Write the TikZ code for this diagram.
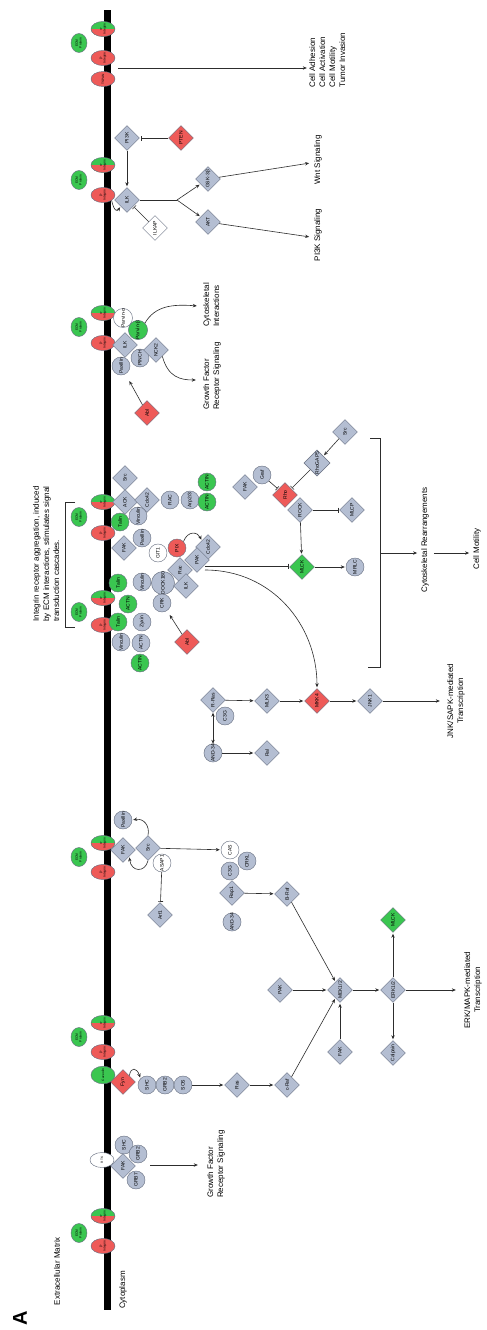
\documentclass[tikz,border=0pt]{standalone}
\usepackage{fontspec}
\setmainfont{Liberation Sans}
\usepackage{graphicx}
\usetikzlibrary{shapes.geometric,arrows.meta,calc}
\definecolor{gfill}{RGB}{180,190,210}
\definecolor{gline}{RGB}{105,113,130}
\definecolor{rfill}{RGB}{238,90,88}
\definecolor{nfill}{RGB}{58,198,80}
\definecolor{linkc}{RGB}{45,45,45}
\newcommand{\Rt}[1]{\rotatebox{90}{#1}}
\newcommand{\rotL}[1]{\rotatebox{90}{\begin{tabular}{@{}l@{}}#1\end{tabular}}}
\newcommand{\rotC}[1]{\rotatebox{90}{\begin{tabular}{@{}c@{}}#1\end{tabular}}}
\newcommand{\integrin}[4]{%
  \node[bic] (#1a) at (103,#2) {\rotC{α-\\Integrin}};
  \node[ib] (#1b) at (103,#3) {\rotC{β-\\Integrin}};
  \node[ecm] (#1e) at (79,#4) {\rotC{ECM\\Protein}};}
\begin{document}
\begin{tikzpicture}[x=1pt,y=-1pt,
 base/.style={draw=gline,line width=0.45pt,inner sep=0pt,font=\fontsize{5}{5.5}\selectfont},
 gd/.style={base,diamond,fill=gfill,minimum width=25pt,minimum height=25pt},
 wd/.style={gd,fill=white},
 rd/.style={gd,fill=rfill},
 nd/.style={gd,fill=nfill},
 gc/.style={base,circle,fill=gfill,minimum size=18pt},
 wc/.style={gc,fill=white},
 rc/.style={gc,fill=rfill},
 nc/.style={gc,fill=nfill},
 ib/.style={base,ellipse,fill=rfill,minimum width=24pt,minimum height=15pt,font=\fontsize{3.2}{3.6}\selectfont},
 bic/.style={ib,fill=nfill,path picture={\fill[rfill] (path picture bounding box.west) rectangle (path picture bounding box.south east);}},
 ecm/.style={ib,fill=nfill,minimum width=16pt,minimum height=19pt},
 txt/.style={inner sep=0pt,font=\fontsize{8}{10}\selectfont},
 lk/.style={draw=linkc,line width=0.6pt},
 arr/.style={lk,-{Stealth[length=4pt,width=3.4pt]},shorten >=1pt},
 arrb/.style={lk,{Stealth[length=4pt,width=3.4pt]}-{Stealth[length=4pt,width=3.4pt]}},
 inh/.style={lk,-{Bar[width=5pt]},shorten >=1pt},
]
\useasboundingbox (0,0) rectangle (487,1330);
\fill[white] (0,0) rectangle (487,1330);
% membrane
\fill[black] (104,10) rectangle (111,1310);

% integrins
\integrin{g1}{29}{58}{43}
\node[ib] (tspan) at (103,79) {\Rt{TSPAN}};
\integrin{g2}{165}{195}{180}
\integrin{g3}{313}{343}{327}
\integrin{g4}{502}{533}{517}
\integrin{g5}{598}{625}{612}
\integrin{g6}{843}{872}{857}
\integrin{g7}{1023}{1052}{1037}
\node[ib,fill=nfill] (cav) at (103,1075) {\Rt{Caveolin}};
\node[ib,fill=white] (rtk) at (102,1160) {\Rt{RTK}};
\integrin{g8}{1216}{1246}{1233}

% ---------- top: ILK ----------
\node[gd] (pi3k) at (127,138) {\Rt{PI3K}};
\node[rd] (pten) at (181,138) {\Rt{PTEN}};
\node[gd] (ilk1) at (127,200) {\Rt{ILK}};
\node[wd] (ilkap) at (155,228) {\Rt{ILKAP}};
\node[gd] (gsk) at (208,179) {\Rt{GSK-3β}};
\node[gd] (akt1) at (208,222) {\Rt{AKT}};
\coordinate (br) at (177,200);
\node[txt] (cellout) at (328,60) {\rotL{Cell Adhesion\\Cell Activation\\Cell Motility\\Tumor Invasion}};
\node[txt] (wnt) at (318,160) {\Rt{Wnt Signaling}};
\node[txt] (pi3ksig) at (318,235) {\Rt{PI3K Signaling}};
\coordinate (c1) at (118,68);
\draw[arr] (c1) -- (c1 -| cellout.west);
\draw[inh] (pten) -- (pi3k);
\draw[arr] (pi3k) -- (ilk1);
\draw[inh] (ilkap) -- (ilk1);
\draw[lk] (ilk1) -- (br);
\draw[arr] (br) -- (gsk);
\draw[arr] (br) -- (akt1);
\draw[arr] (gsk) -- ($(wnt.west)+(-4,3)$);
\draw[arr] (akt1) -- ($(pi3ksig.west)+(-4,2)$);
\draw[arr] (g2b.south east) .. controls (114,211) and (117,212) .. (ilk1.south west);

% ---------- parvin group ----------
\node[wc] (parva) at (123,318) {\Rt{Parvin-α}};
\node[nc] (parvb) at (138,330) {\Rt{Parvin-β}};
\node[gc] (pax2) at (121,366) {\Rt{Paxillin}};
\node[gd] (ilk2) at (125,345) {\Rt{ILK}};
\node[gc] (pinch) at (140,358) {\Rt{PINCH}};
\node[gd] (nck2) at (156,350) {\Rt{NCK2}};
\node[rd] (abl1) at (147,413) {\Rt{Abl}};
\node[txt] (cytoint) at (212,305) {\rotL{Cytoskeletal\\Interactions}};
\node[txt] (gfr2) at (212,376) {\rotL{Growth Factor\\Receptor Signaling}};
\draw[arr] (parvb.north east) .. controls (155,306) and (172,304) .. ($(cytoint.west)+(-4,1)$);
\draw[arr] (nck2.south east) .. controls (168,377) and (180,380) .. ($(gfr2.west)+(-5,4)$);
\draw[arr,shorten >=8pt] (abl1) -- (pax2);

% ---------- aggregation cluster ----------
\node[txt] (integtxt) at (47,554) {\rotL{Integrin receptor aggregation, induced\\by ECM interactions, stimulates signal\\transduction cascades.}};
\draw[lk] (75,502) -- (65,502) -- (65,627) -- (75,627);
\node[gd] (src1) at (125,478) {\Rt{Src}};
\node[gd] (ack) at (125,502) {\Rt{ACK}};
\node[gd] (cdc42a) at (147,500) {\Rt{Cdc42}};
\node[gc] (rac1) at (170,500) {\Rt{RAC}};
\node[gc] (arp) at (190,500) {\Rt{Arp2/3}};
\node[nc] (actin1) at (207,482) {\Rt{ACTIN}};
\node[nc] (actin2) at (207,502) {\Rt{ACTIN}};
\node[nc] (talin1) at (120,522) {\Rt{Talin}};
\node[gc] (vinc1) at (138,516) {\Rt{Vinculin}};
\node[gc] (pax3) at (142,538) {\Rt{Paxillin}};
\node[gd] (fak2) at (124,548) {\Rt{FAK}};
\node[wc] (git) at (158,553) {\Rt{GIT1}};
\node[rc] (pix) at (177,548) {\Rt{PIX}};
\node[gd] (cdc42b) at (208,547) {\Rt{Cdc42}};
\node[gd] (pak2) at (197,560) {\Rt{PAK}};
\node[gd] (rac2) at (180,570) {\Rt{Rac}};
\node[gc] (dock) at (163,583) {\Rt{DOCK180}};
\node[gd] (ilk3) at (186,586) {\Rt{ILK}};
\node[gc] (crk) at (162,603) {\Rt{CRK}};
\node[nc] (talin2) at (118,583) {\Rt{Talin}};
\node[gc] (vinc2) at (142,582) {\Rt{Vinculin}};
\node[nc] (actn1) at (128,604) {\Rt{ACTN}};
\node[nc] (talin3) at (118,622) {\Rt{Talin}};
\node[gc] (zyx) at (142,622) {\Rt{Zyxin}};
\node[gc] (vinc3) at (121,642) {\Rt{Vinculin}};
\node[gc] (actn2) at (141,643) {\Rt{ACTN}};
\node[nc] (actin3) at (140,663) {\Rt{ACTIN}};
\node[rd] (abl2) at (187,642) {\Rt{Abl}};
\draw[arr] (pix.north east) .. controls (188,530) and (198,532) .. (cdc42b.north west);
\draw[arr,shorten >=5pt] (abl2) -- (crk);

% ---------- Rho section ----------
\node[gd] (src2) at (345,432) {\Rt{Src}};
\node[gd] (rhogap) at (317,463) {\Rt{RhoGAP5}};
\node[gd] (fak3) at (245,487) {\Rt{FAK}};
\node[gc] (graf) at (262,475) {\Rt{Graf}};
\node[rd] (rho) at (285,495) {\Rt{Rho}};
\node[gd] (rock) at (300,510) {\Rt{ROCK}};
\node[gd] (mlcp) at (352,510) {\Rt{MLCP}};
\node[nd] (mlck1) at (302,567) {\Rt{MLCK}};
\node[gc] (mrlc) at (355,567) {\Rt{MRLC}};
\draw[arr] (src2) -- (rhogap);
\draw[inh] (rhogap) -- (rho);
\draw[inh] (graf) -- (rho);
\draw[inh] (rock) -- (mlcp);
\draw[arr] (rock) -- (mlck1);
\draw[arr] (mlck1) -- (mrlc);
\coordinate (c2) at (205,566);
\coordinate (c3) at (205,570);
\draw[inh] (c2) -- (c2 -| mlck1.west);

% ---------- bracket and outcome ----------
\draw[lk] (370,438) -- (380,438) -- (380,667) -- (368,667);
\coordinate (brk) at (380,553);
\node[txt] (cytorearr) at (425,540) {\Rt{Cytoskeletal Rearrangements}};
\node[txt] (cellmot) at (477,549) {\Rt{Cell Motility}};
\coordinate (cr1) at (cytorearr.east |- brk);
\draw[arr] (brk) -- ($(brk -| cytorearr.west)+(-3,0)$);
\draw[arr] ($(cr1)+(5,0)$) -- ($(brk -| cellmot.west)+(-3,0)$);

% ---------- JNK ----------
\node[gd] (rras) at (213,700) {\Rt{R-Ras}};
\node[gc] (c3g1) at (225,716) {\Rt{C3G}};
\node[gd] (mlk) at (267,701) {\Rt{MLK3}};
\node[rd] (mkk4) at (317,701) {\Rt{MKK4}};
\node[gd] (jnk) at (370,701) {\Rt{JNK1}};
\node[txt] (jnktext) at (456,701) {\rotC{JNK/SAPK-mediated\\Transcription}};
\node[gc] (and34a) at (213,753) {\Rt{AND-34}};
\node[gd] (ral) at (267,753) {\Rt{Ral}};
\draw[arr] (c3) .. controls (272,570) and (317,625) .. (mkk4.north);
\draw[arr] (rras) -- (mlk);
\draw[arr] (mlk) -- (mkk4);
\draw[arr] (mkk4) -- (jnk);
\draw[arr,shorten >=6pt] (jnk) -- (jnktext);
\draw[arrb] (and34a) -- (rras);
\draw[arr] (and34a) -- (ral);

% ---------- Src / ERK group ----------
\node[gc] (pax4) at (123,820) {\Rt{Paxillin}};
\node[gd] (fak4) at (123,850) {\Rt{FAK}};
\node[gd] (src3) at (148,848) {\Rt{Src}};
\node[wc] (asap) at (162,863) {\Rt{ASAP1}};
\node[wc] (cas) at (230,850) {\Rt{CAS}};
\node[gc] (crkl) at (247,861) {\Rt{CRKL}};
\node[gc] (c3g2) at (230,871) {\Rt{C3G}};
\node[gd] (arf) at (160,915) {\Rt{Arf1}};
\node[gd] (rap) at (232,893) {\Rt{Rap1}};
\node[gc] (and34b) at (232,922) {\Rt{AND-34}};
\node[gd] (braf) at (287,894) {\Rt{B-Raf}};
\draw[arr] (src3) -- (cas);
\draw[arr] (src3.north) .. controls (150,826) and (144,818) .. (pax4.east);
\draw[arr] (src3.south) .. controls (145,873) and (131,872) .. (fak4.south east);
\draw[inh] (asap) -- (arf);
\draw[arr] (rap) -- (braf);

\node[rd] (fyn) at (123,1082) {\Rt{Fyn}};
\node[gc] (shc) at (147,1085) {\Rt{SHC}};
\node[gc] (grb2) at (165,1085) {\Rt{GRB2}};
\node[gc] (sos) at (183,1085) {\Rt{SOS}};
\node[gd] (ras) at (237,1085) {\Rt{Ras}};
\node[gd] (craf) at (287,1085) {\Rt{c-Raf}};
\node[gd] (pak3) at (280,990) {\Rt{PAK}};
\node[gd] (mek) at (340,990) {\Rt{MEK1/2}};
\node[gd] (fak5) at (340,1052) {\Rt{FAK}};
\node[gd] (erk) at (393,990) {\Rt{ERK1/2}};
\node[nd] (mlck2) at (393,920) {\Rt{MLCK}};
\node[gd] (calpain) at (393,1053) {\Rt{Calpain}};
\node[txt] (erktext) at (473,990) {\rotC{ERK/MAPK-mediated\\Transcription}};
\draw[arr] (fyn.north east) .. controls (131,1066) and (137,1068) .. (shc.north west);
\draw[arr] (sos) -- (ras);
\draw[arr] (ras) -- (craf);
\draw[arr] (braf) -- (mek);
\draw[arr] (pak3) -- (mek);
\draw[arr] (fak5) -- (mek);
\draw[arr] (craf) -- (mek);
\draw[arr] (mek) -- (erk);
\draw[arr] (erk) -- (mlck2);
\draw[arr] (erk) -- (calpain);
\draw[arr,shorten >=7pt] (erk) -- (erktext);

% ---------- bottom: RTK ----------
\node[gc] (shc2) at (124,1145) {\Rt{SHC}};
\node[gc] (grb2b) at (138,1154) {\Rt{GRB2}};
\node[gc] (grb7) at (136,1180) {\Rt{GRB7}};
\node[gd] (fak6) at (123,1166) {\Rt{FAK}};
\node[txt] (gfr1) at (216,1164) {\rotL{Growth Factor\\Receptor Signaling}};
\coordinate (c4) at (150,1165);
\draw[arr] (c4) -- ($(c4 -| gfr1.west)+(-7,0)$);

\node[txt] (ecmtxt) at (57,1271) {\Rt{Extracellular Matrix}};
\node[txt] (cyto) at (123,1290) {\Rt{Cytoplasm}};
\node[txt,font=\bfseries\fontsize{20}{20}\selectfont] (lblA) at (20,1318) {\Rt{A}};
\end{tikzpicture}
\end{document}
